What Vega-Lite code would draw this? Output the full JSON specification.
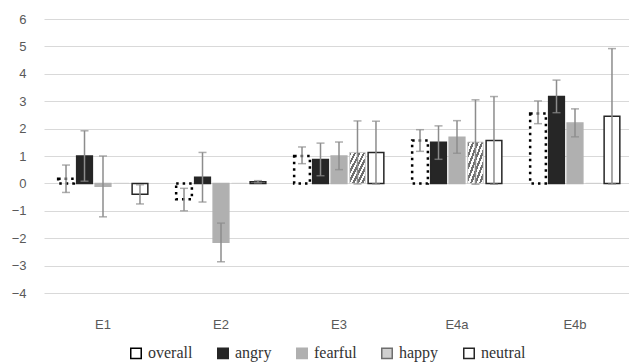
{
  "$schema": "https://vega.github.io/schema/vega-lite/v6.json",
  "autosize": {"type": "none"},
  "width": 590,
  "height": 274,
  "padding": {"left": 44, "top": 19, "right": 0, "bottom": 71},
  "background": "white",
  "config": {
    "view": {"stroke": null},
    "axis": {"labelFont": "Liberation Sans", "labelFontSize": 13, "labelColor": "#595959", "titleFont": "Liberation Sans"},
    "axisY": {"labelOverlap": false, "domain": false, "ticks": false, "labelPadding": 18, "gridColor": "#d9d9d9", "gridWidth": 1, "title": null, "labelFlush": false}
  },
  "data": {
    "values": [
      {"exp": "E1", "cond": "overall", "value": 0.17, "lo": -0.33, "hi": 0.67},
      {"exp": "E1", "cond": "angry", "value": 1.0, "lo": 0.08, "hi": 1.92},
      {"exp": "E1", "cond": "fearful", "value": -0.1, "lo": -1.22, "hi": 1.0},
      {"exp": "E1", "cond": "happy", "value": 0, "lo": null, "hi": null},
      {"exp": "E1", "cond": "neutral", "value": -0.4, "lo": -0.75, "hi": -0.05},
      {"exp": "E2", "cond": "overall", "value": -0.58, "lo": -1.0, "hi": -0.18},
      {"exp": "E2", "cond": "angry", "value": 0.22, "lo": -0.68, "hi": 1.13},
      {"exp": "E2", "cond": "fearful", "value": -2.15, "lo": -2.86, "hi": -1.45},
      {"exp": "E2", "cond": "happy", "value": 0, "lo": null, "hi": null},
      {"exp": "E2", "cond": "neutral", "value": 0.06, "lo": 0.02, "hi": 0.1},
      {"exp": "E3", "cond": "overall", "value": 1.0, "lo": 0.72, "hi": 1.33},
      {"exp": "E3", "cond": "angry", "value": 0.87, "lo": 0.28, "hi": 1.47},
      {"exp": "E3", "cond": "fearful", "value": 1.0, "lo": 0.5, "hi": 1.51},
      {"exp": "E3", "cond": "happy", "value": 1.13, "lo": -0.02, "hi": 2.28},
      {"exp": "E3", "cond": "neutral", "value": 1.13, "lo": -0.02, "hi": 2.27},
      {"exp": "E4a", "cond": "overall", "value": 1.57, "lo": 1.17, "hi": 1.96},
      {"exp": "E4a", "cond": "angry", "value": 1.5, "lo": 0.88, "hi": 2.1},
      {"exp": "E4a", "cond": "fearful", "value": 1.68, "lo": 1.1, "hi": 2.29},
      {"exp": "E4a", "cond": "happy", "value": 1.51, "lo": -0.03, "hi": 3.05},
      {"exp": "E4a", "cond": "neutral", "value": 1.57, "lo": -0.03, "hi": 3.17},
      {"exp": "E4b", "cond": "overall", "value": 2.55, "lo": 2.18, "hi": 3.01},
      {"exp": "E4b", "cond": "angry", "value": 3.17, "lo": 2.58, "hi": 3.77},
      {"exp": "E4b", "cond": "fearful", "value": 2.2, "lo": 1.7, "hi": 2.72},
      {"exp": "E4b", "cond": "happy", "value": 0, "lo": null, "hi": null},
      {"exp": "E4b", "cond": "neutral", "value": 2.45, "lo": -0.02, "hi": 4.92}
    ]
  },
  "encoding": {
    "x": {
      "field": "exp", "type": "nominal", "sort": null,
      "scale": {"paddingInner": 0.24, "paddingOuter": 0.12},
      "axis": {"title": null, "labelAngle": 0, "domain": false, "ticks": false, "labelPadding": 25}
    },
    "xOffset": {
      "field": "cond", "type": "nominal",
      "scale": {"domain": ["overall", "angry", "fearful", "happy", "neutral"], "paddingInner": 0.15}
    }
  },
  "layer": [
    {
      "mark": {"type": "bar", "strokeWidth": 1.5},
      "transform": [{"filter": "datum.cond === 'angry' || datum.cond === 'fearful' || datum.cond === 'neutral'"}],
      "encoding": {
        "y": {
          "field": "value", "type": "quantitative",
          "scale": {"domain": [-4, 6], "nice": false, "zero": false},
          "axis": {"values": [-4, -3, -2, -1, 0, 1, 2, 3, 4, 5, 6], "tickCount": 11, "format": "d"}
        },
        "fill": {
          "field": "cond", "type": "nominal",
          "scale": {"domain": ["overall", "angry", "fearful", "happy", "neutral"], "range": ["#ffffff", "#262626", "#b0b0b0", "#d0d0d0", "#ffffff"]},
          "legend": {
            "title": null, "orient": "none", "legendX": 84, "legendY": 326, "direction": "horizontal",
            "symbolType": "square", "symbolSize": 110, "symbolStrokeWidth": 1.5,
            "labelFont": "Liberation Serif", "labelFontSize": 16, "labelColor": "#333333",
            "columnPadding": 21, "labelOffset": 4, "labelLimit": 200
          }
        },
        "stroke": {
          "field": "cond", "type": "nominal",
          "scale": {"domain": ["overall", "angry", "fearful", "happy", "neutral"], "range": ["#000000", "#262626", "#b0b0b0", "#6e6e6e", "#262626"]},
          "legend": {
            "title": null, "orient": "none", "legendX": 84, "legendY": 326, "direction": "horizontal",
            "symbolType": "square", "symbolSize": 110, "symbolStrokeWidth": 1.5,
            "labelFont": "Liberation Serif", "labelFontSize": 16, "labelColor": "#333333",
            "columnPadding": 21, "labelOffset": 4, "labelLimit": 200
          }
        }
      }
    },
    {
      "mark": {"type": "bar", "fill": "#ffffff", "stroke": "#000000", "strokeWidth": 2.5, "strokeDash": [2.5, 4]},
      "transform": [{"filter": "datum.cond === 'overall'"}],
      "encoding": {"y": {"field": "value", "type": "quantitative", "axis": {"values": [-4, -3, -2, -1, 0, 1, 2, 3, 4, 5, 6], "tickCount": 11, "format": "d"}}}
    },
    {
      "mark": {
        "type": "bar", "stroke": "#cfcfcf", "strokeWidth": 1,
        "fill": {
          "gradient": "linear", "x1": 0, "y1": 0, "x2": 1, "y2": 1,
          "stops": [
            {"offset": 0, "color": "#6e6e6e"}, {"offset": 0.07, "color": "#6e6e6e"}, {"offset": 0.07, "color": "#ffffff"}, {"offset": 0.143, "color": "#ffffff"},
            {"offset": 0.143, "color": "#6e6e6e"}, {"offset": 0.213, "color": "#6e6e6e"}, {"offset": 0.213, "color": "#ffffff"}, {"offset": 0.286, "color": "#ffffff"},
            {"offset": 0.286, "color": "#6e6e6e"}, {"offset": 0.356, "color": "#6e6e6e"}, {"offset": 0.356, "color": "#ffffff"}, {"offset": 0.429, "color": "#ffffff"},
            {"offset": 0.429, "color": "#6e6e6e"}, {"offset": 0.499, "color": "#6e6e6e"}, {"offset": 0.499, "color": "#ffffff"}, {"offset": 0.571, "color": "#ffffff"},
            {"offset": 0.571, "color": "#6e6e6e"}, {"offset": 0.641, "color": "#6e6e6e"}, {"offset": 0.641, "color": "#ffffff"}, {"offset": 0.714, "color": "#ffffff"},
            {"offset": 0.714, "color": "#6e6e6e"}, {"offset": 0.784, "color": "#6e6e6e"}, {"offset": 0.784, "color": "#ffffff"}, {"offset": 0.857, "color": "#ffffff"},
            {"offset": 0.857, "color": "#6e6e6e"}, {"offset": 0.927, "color": "#6e6e6e"}, {"offset": 0.927, "color": "#ffffff"}, {"offset": 1, "color": "#ffffff"}
          ]
        }
      },
      "transform": [{"filter": "datum.cond === 'happy'"}],
      "encoding": {"y": {"field": "value", "type": "quantitative", "axis": {"values": [-4, -3, -2, -1, 0, 1, 2, 3, 4, 5, 6], "tickCount": 11, "format": "d"}}}
    },
    {
      "mark": {"type": "rule", "color": "#8c8c8c", "strokeWidth": 1.5},
      "encoding": {
        "y": {"field": "lo", "type": "quantitative", "axis": {"values": [-4, -3, -2, -1, 0, 1, 2, 3, 4, 5, 6], "tickCount": 11, "format": "d"}},
        "y2": {"field": "hi"}
      }
    },
    {
      "mark": {"type": "tick", "color": "#8c8c8c", "thickness": 1.5, "size": 8},
      "encoding": {"y": {"field": "lo", "type": "quantitative", "axis": {"values": [-4, -3, -2, -1, 0, 1, 2, 3, 4, 5, 6], "tickCount": 11, "format": "d"}}}
    },
    {
      "mark": {"type": "tick", "color": "#8c8c8c", "thickness": 1.5, "size": 8},
      "encoding": {"y": {"field": "hi", "type": "quantitative", "axis": {"values": [-4, -3, -2, -1, 0, 1, 2, 3, 4, 5, 6], "tickCount": 11, "format": "d"}}}
    }
  ]
}
